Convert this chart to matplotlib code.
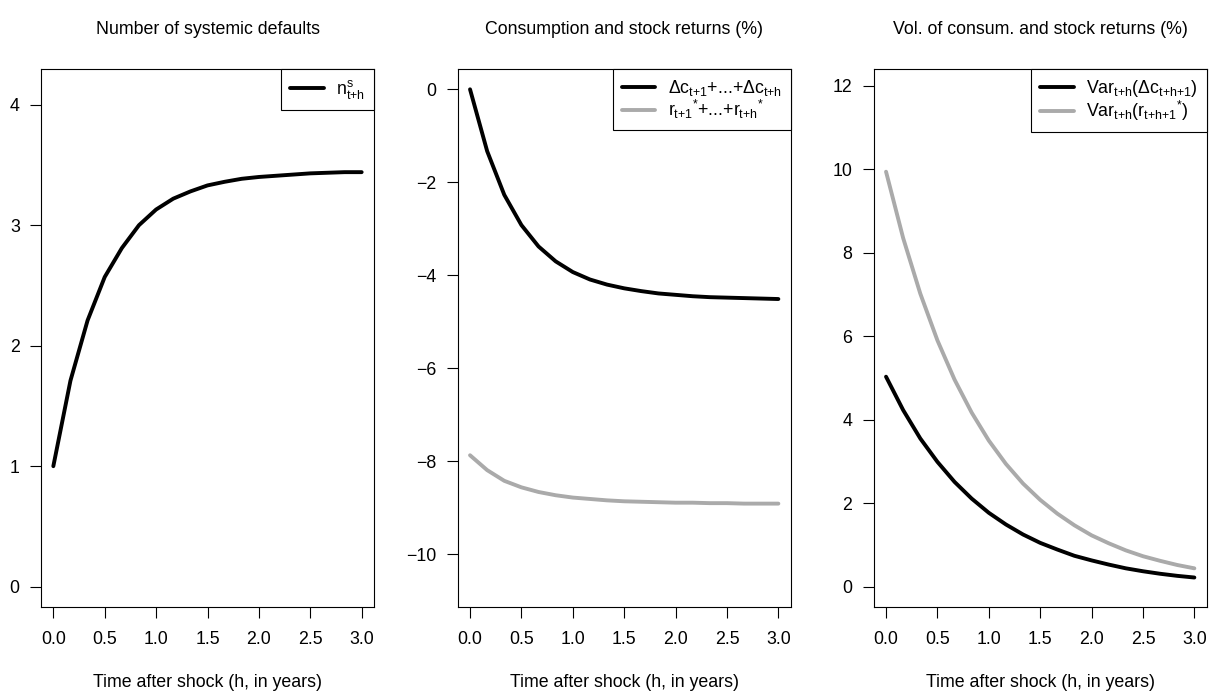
import matplotlib
matplotlib.use("Agg")
import matplotlib.pyplot as plt
import numpy as np

plt.rcParams['font.family'] = ['Liberation Sans', 'DejaVu Sans']
plt.rcParams['mathtext.fontset'] = 'custom'
plt.rcParams['mathtext.rm'] = 'Liberation Sans'
plt.rcParams['mathtext.it'] = 'Liberation Sans'
plt.rcParams['mathtext.bf'] = 'Liberation Sans:bold'
plt.rcParams['mathtext.sf'] = 'Liberation Sans'

# horizon (years), steps of 1/6 year
h = np.arange(19) / 6.0

n_sys = [1.00, 1.71, 2.21, 2.57, 2.81, 3.00, 3.13, 3.22, 3.28, 3.33,
         3.36, 3.385, 3.40, 3.41, 3.42, 3.43, 3.435, 3.44, 3.44]

cons_cum = [0.00, -1.33, -2.27, -2.92, -3.38, -3.70, -3.93, -4.09, -4.20, -4.28,
            -4.34, -4.39, -4.42, -4.45, -4.47, -4.48, -4.49, -4.50, -4.51]
ret_cum = [-7.87, -8.19, -8.42, -8.56, -8.66, -8.73, -8.78, -8.81, -8.84, -8.86,
           -8.87, -8.88, -8.89, -8.89, -8.90, -8.90, -8.91, -8.91, -8.91]

var_cons = [5.03, 4.23, 3.55, 2.99, 2.51, 2.11, 1.77, 1.49, 1.25, 1.05,
            0.89, 0.74, 0.63, 0.53, 0.44, 0.37, 0.31, 0.26, 0.22]
var_ret = [9.94, 8.35, 7.02, 5.90, 4.96, 4.17, 3.50, 2.94, 2.47, 2.08,
           1.75, 1.47, 1.23, 1.04, 0.87, 0.73, 0.62, 0.52, 0.44]

titles = ["Number of systemic defaults",
          "Consumption and stock returns (%)",
          "Vol. of consum. and stock returns (%)"]
xlabel = "Time after shock (h, in years)"
xticks = [0.0, 0.5, 1.0, 1.5, 2.0, 2.5, 3.0]
yticks = [[0, 1, 2, 3, 4],
          [0, -2, -4, -6, -8, -10],
          [0, 2, 4, 6, 8, 10, 12]]
ylims = [(-0.166, 4.296), (-11.127, 0.437), (-0.479, 12.40)]

series = [
    [(n_sys, 'black', r'$\mathregular{n^{s}_{t{+}h}}$')],
    [(cons_cum, 'black', r'$\Delta c_{t{+}1}$+...+$\Delta c_{t{+}h}$'),
     (ret_cum, '#AAAAAA', r'$r_{t{+}1}{}^{*}$+...+$r_{t{+}h}{}^{*}$')],
    [(var_cons, 'black', r'Var$_{t{+}h}$($\Delta c_{t{+}h{+}1}$)'),
     (var_ret, '#AAAAAA', r'Var$_{t{+}h}$($r_{t{+}h{+}1}{}^{*}$)')],
]

W, H = 1219, 691
fig = plt.figure(figsize=(W / 100, H / 100), dpi=100)
lefts = [41, 457.7, 873.7]
fs = 12.8
for i in range(3):
    ax = fig.add_axes([lefts[i] / W, (H - 606.7) / H, 333 / W, 537.7 / H])
    for ys, col, lab in series[i]:
        ax.plot(h, ys, color=col, lw=2.8, label=lab, solid_capstyle='round')
    ax.set_xlim(-0.12, 3.12)
    ax.set_ylim(*ylims[i])
    ax.set_xticks(xticks)
    ax.set_xticklabels([f"{v:.1f}" for v in xticks])
    ax.set_yticks(yticks[i])
    ax.set_yticklabels([("\u2212" if v < 0 else "") + str(abs(v)) for v in yticks[i]])
    ax.tick_params(axis='both', direction='out', length=7.8, width=0.8,
                   labelsize=fs, colors='black')
    ax.tick_params(axis='x', pad=10)
    ax.tick_params(axis='y', pad=7.5)
    for sp in ax.spines.values():
        sp.set_linewidth(0.8)
    ax.set_title(titles[i], fontsize=fs, pad=25)
    ax.set_xlabel(xlabel, fontsize=fs, labelpad=18.5)
    leg = ax.legend(loc='upper right', borderaxespad=0, fancybox=False,
                    edgecolor='black', framealpha=1, fontsize=fs,
                    handlelength=1.9, handletextpad=0.7, labelspacing=0.0,
                    borderpad=0.5)
    leg.get_frame().set_linewidth(0.8)

fig.savefig("out.png", dpi=100)
